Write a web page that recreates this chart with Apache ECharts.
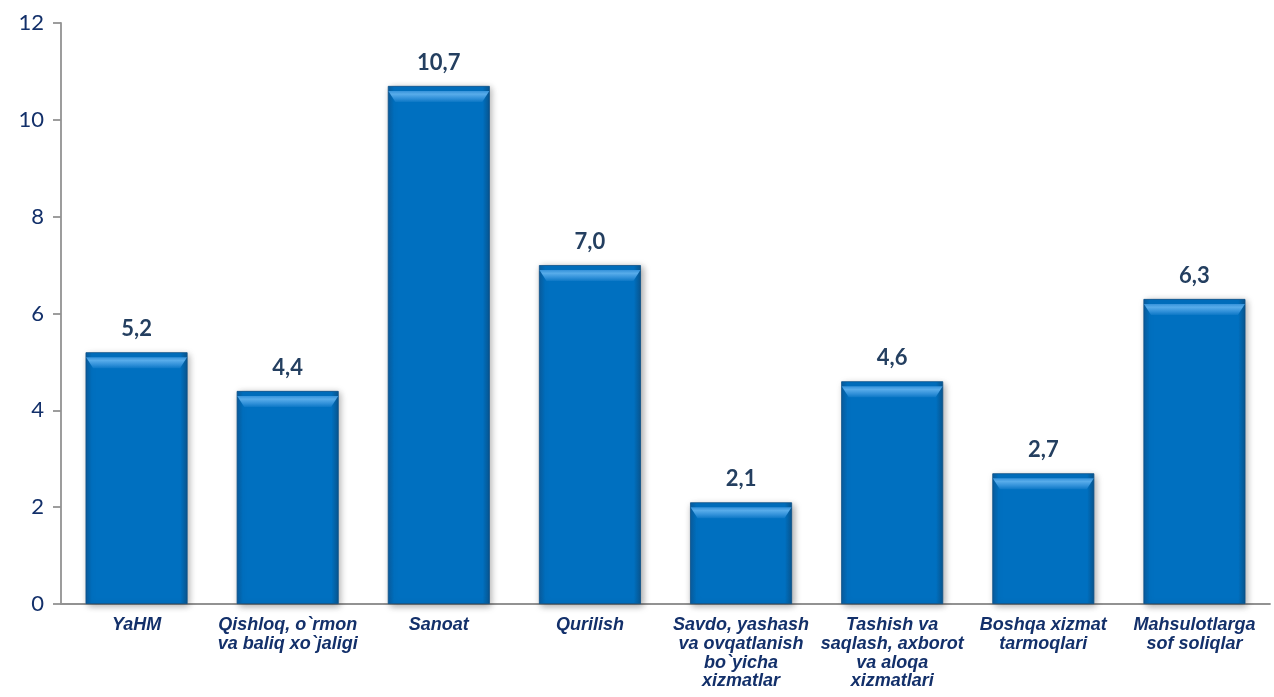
<!DOCTYPE html>
<html><head><meta charset="utf-8">
<script src="https://cdn.jsdelivr.net/npm/echarts@6/dist/echarts.min.js"></script>
<style>html,body{margin:0;padding:0;background:#fff}#c{width:1274px;height:697px}</style>
</head><body><div id="c"></div>
<script>
const categories = ["YaHM","Qishloq, o`rmon\nva baliq xo`jaligi","Sanoat","Qurilish","Savdo, yashash\nva ovqatlanish\nbo`yicha\nxizmatlar","Tashish va\nsaqlash, axborot\nva aloqa\nxizmatlari","Boshqa xizmat\ntarmoqlari","Mahsulotlarga\nsof soliqlar"];
const values = [5.2, 4.4, 10.7, 7.0, 2.1, 4.6, 2.7, 6.3];
const yTicks = {min: 0, max: 12, interval: 2};

const chart = echarts.init(document.getElementById('c'));
chart.setOption({
  animation: false,
  grid: {left: 61, right: 4, top: 23, bottom: 93, containLabel: false},
  xAxis: {
    type: 'category', data: categories,
    axisLine: {lineStyle: {color: '#929292', width: 1.8}},
    axisTick: {show: false},
    axisLabel: {interval: 0, margin: 12, color: '#13306A', fontFamily: '"Liberation Sans", Arial, sans-serif', fontSize: 18, fontWeight: 'bold', fontStyle: 'italic', lineHeight: 18.7}
  },
  yAxis: {
    type: 'value', min: yTicks.min, max: yTicks.max, interval: yTicks.interval,
    splitLine: {show: false},
    axisLine: {show: true, lineStyle: {color: '#929292', width: 1.8}},
    axisTick: {show: true, length: 8, lineStyle: {color: '#929292', width: 1.8}},
    axisLabel: {margin: 17, color: '#13306A', fontFamily: 'Lato, sans-serif', fontSize: 22}
  },
  series: [{
    type: 'bar', data: values, barWidth: 102, z: 2,
    itemStyle: {
      color: {type: 'linear', x: 0, y: 0, x2: 1, y2: 0, colorStops: [
        {offset: 0, color: '#0a5c9e'}, {offset: 0.06, color: '#0070C0'}, {offset: 0.93, color: '#0070C0'}, {offset: 1, color: '#095690'}]},
      borderColor: '#0b4f86', borderWidth: 0.8,
      shadowColor: 'rgba(0,0,0,0.35)', shadowBlur: 7, shadowOffsetX: 2, shadowOffsetY: 2
    },
    label: {
      show: true, position: 'top', distance: 12,
      color: '#243F60', fontFamily: 'Lato, sans-serif', fontSize: 22, fontWeight: 'bold',
      formatter: p => p.value.toFixed(1).replace('.', ',')
    }
  }, {
    type: 'pictorialBar', data: values, z: 3, silent: true,
    symbol: 'path://M0,0 L100,0 L93,10 L7,10 Z',
    symbolSize: [101, 11], symbolPosition: 'end', symbolOffset: [0, '45%'],
    itemStyle: {
      color: {type: 'linear', x: 0, y: 0, x2: 0, y2: 1, colorStops: [
        {offset: 0, color: '#3592da'}, {offset: 0.3, color: '#58acea'}, {offset: 0.7, color: '#2f8fd8'}, {offset: 1, color: '#0d78c6'}]}
    }
  }]
});
</script></body></html>
